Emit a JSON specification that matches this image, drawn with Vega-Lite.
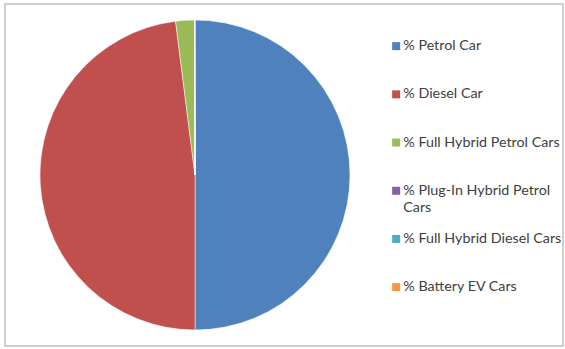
{
  "$schema": "https://vega.github.io/schema/vega-lite/v6.json",
  "width": 558,
  "height": 342,
  "autosize": "none",
  "padding": {"left": 5, "top": 4, "right": 2, "bottom": 3},
  "background": "white",
  "layer": [
    {
      "data": {"values": [{"frame": "border"}]},
      "mark": {"type": "rect", "fill": null, "stroke": "#BFBFBF", "strokeWidth": 1.5},
      "encoding": {}
    },
    {
      "data": {
        "values": [
          {"category": "% Petrol Car", "share": 50.0, "order": 1},
          {"category": "% Diesel Car", "share": 48.0, "order": 2},
          {"category": "% Full Hybrid Petrol Cars", "share": 1.95, "order": 3},
          {"category": "% Plug-In Hybrid Petrol Cars", "share": 0.02, "order": 4},
          {"category": "% Full Hybrid Diesel Cars", "share": 0.01, "order": 5},
          {"category": "% Battery EV Cars", "share": 0.02, "order": 6}
        ]
      },
      "mark": {"type": "arc", "outerRadius": 155, "xOffset": -89, "stroke": "white", "strokeWidth": 0.5},
      "encoding": {
        "theta": {"field": "share", "type": "quantitative", "stack": true},
        "order": {"field": "order", "type": "quantitative"},
        "color": {
          "field": "category",
          "type": "nominal",
          "scale": {
            "domain": ["% Petrol Car", "% Diesel Car", "% Full Hybrid Petrol Cars", "% Plug-In Hybrid Petrol Cars", "% Full Hybrid Diesel Cars", "% Battery EV Cars"],
            "range": ["#4F81BD", "#C0504D", "#9BBB59", "#8064A2", "#4BACC6", "#F79646"]
          },
          "legend": {
            "title": null,
            "orient": "none",
            "legendX": 384,
            "legendY": 35,
            "padding": 0,
            "symbolType": "square",
            "symbolSize": 64,
            "symbolStrokeWidth": 0,
            "labelFont": "Lato",
            "labelFontSize": 14.3,
            "labelColor": "#404040",
            "labelOffset": 0,
            "labelLimit": 220,
            "rowPadding": 16.2,
            "gridAlign": "all",
            "labelExpr": "datum.label == '% Plug-In Hybrid Petrol Cars' ? ['% Plug-In Hybrid Petrol', 'Cars'] : datum.label"
          }
        }
      }
    }
  ],
  "config": {
    "view": {"stroke": null},
    "style": {"guide-label": {"lineHeight": 17}}
  }
}
